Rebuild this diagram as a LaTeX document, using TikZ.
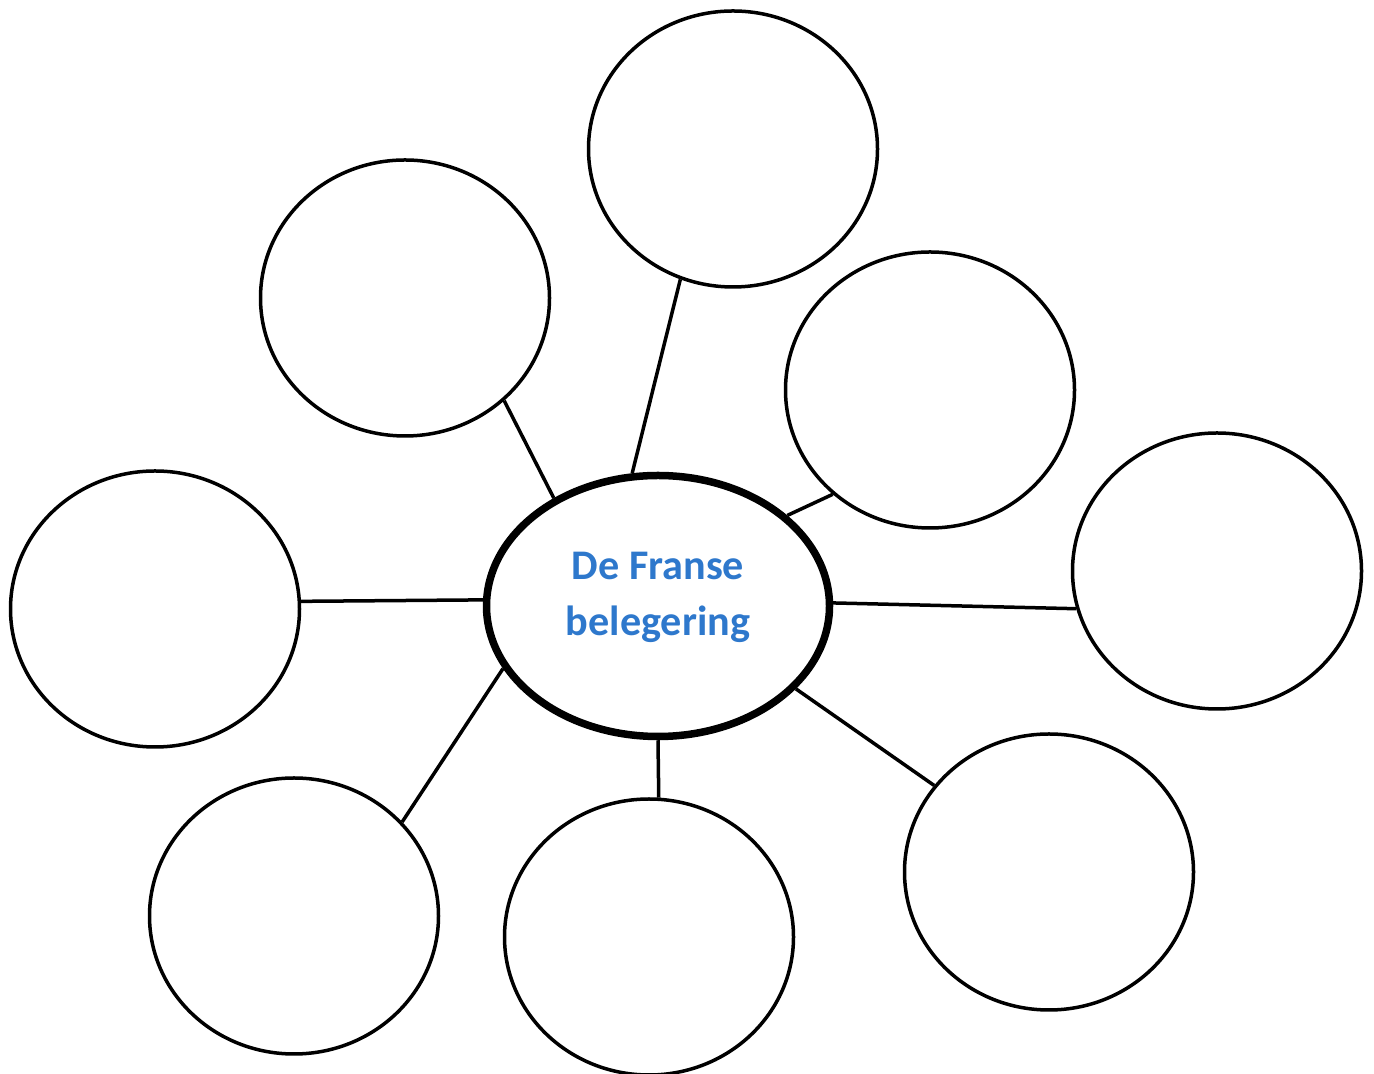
\documentclass[tikz,border=0pt]{standalone}
\usepackage{fontspec}
\setmainfont{Carlito}
\usetikzlibrary{shapes.geometric}
\definecolor{titleblue}{RGB}{46,120,204}

\begin{document}
\begin{tikzpicture}[-,auto,line width=0.035cm,
    leaf node/.style={ellipse,draw,minimum width=2.89cm,minimum height=2.76cm},
    main node/.style={ellipse,draw,line width=0.075cm,minimum width=3.43cm,minimum height=2.61cm,align=center,text depth=0.25cm,font=\fontsize{12}{16}\selectfont\bfseries,text=titleblue}]

                    \useasboundingbox (0,0) rectangle (13.74,10.74);

                    \node[main node] (c) at (6.58,4.68) {De Franse\\belegering};
                    \node[leaf node] (t) at (7.33,9.25) {};
                    \node[leaf node] (tl) at (4.05,7.76) {};
                    \node[leaf node] (tr) at (9.30,6.84) {};
                    \node[leaf node] (r) at (12.17,5.03) {};
                    \node[leaf node] (l) at (1.55,4.65) {};
                    \node[leaf node] (br) at (10.49,2.02) {};
                    \node[leaf node] (b) at (6.49,1.37) {};
                    \node[leaf node] (bl) at (2.94,1.58) {};

                    \path
                        (c.101) edge (t.248)
                        (c.134) edge (tl.314)
                        (c.35) edge (tr.227)
                        (c.1.6) edge (r.195.5)
                        (c.178.4) edge (l.3)
                        (c.202) edge (bl.41.6)
                        (c.270) edge (b.86.4)
                        (c.329.5) edge (br.143.5)
                        ;
                \end{tikzpicture}
\end{document}
